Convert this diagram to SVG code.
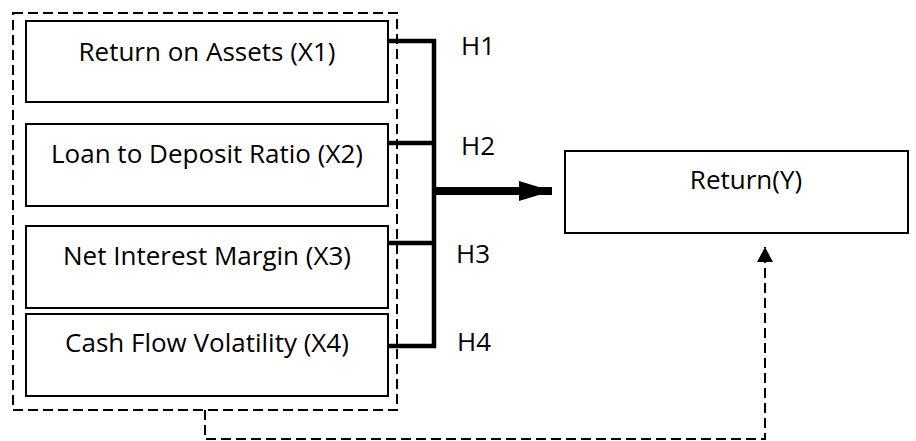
<svg xmlns="http://www.w3.org/2000/svg" width="916" height="441" viewBox="0 0 916 441">
<style>
.box{fill:#fff;stroke:#000;stroke-width:2}
.t{font-family:"Open Sans","Liberation Sans",sans-serif;font-size:26px;fill:#000}
.c{text-anchor:middle}
.dash{fill:none;stroke:#000;stroke-width:2;stroke-dasharray:10,5}
.thick{fill:none;stroke:#000;stroke-width:4.5;stroke-linejoin:miter}
</style>
<defs>
<marker id="ah" markerUnits="userSpaceOnUse" markerWidth="34" markerHeight="20" refX="33" refY="10" orient="auto">
<path d="M0,0 L33,10 L0,20 Z" fill="#000"/>
</marker>
<marker id="ah2" markerUnits="userSpaceOnUse" markerWidth="16" markerHeight="16" refX="15" refY="8" orient="auto">
<path d="M0,0 L15,8 L0,16 Z" fill="#000"/>
</marker>
</defs>
<g id="group">
<rect x="13" y="13" width="384" height="397" class="dash"/>
</g>
<g id="x1">
<rect x="26" y="21" width="362" height="81" class="box"/>
<text x="207" y="61" class="t c">Return on Assets (X1)</text>
</g>
<g id="x2">
<rect x="26" y="124" width="362" height="82" class="box"/>
<text x="207" y="163" class="t c">Loan to Deposit Ratio (X2)</text>
</g>
<g id="x3">
<rect x="26" y="226" width="362" height="82" class="box"/>
<text x="207" y="265" class="t c">Net Interest Margin (X3)</text>
</g>
<g id="x4">
<rect x="26" y="314" width="362" height="82" class="box"/>
<text x="207" y="352" class="t c">Cash Flow Volatility (X4)</text>
</g>
<g id="y">
<rect x="565" y="151" width="343" height="82" class="box"/>
<text x="746" y="189" class="t c">Return(Y)</text>
</g>
<g id="connectors">
<path d="M388,41 H434 V346 H388" class="thick"/>
<path d="M388,143 H434" class="thick" stroke-width="3.5"/>
<path d="M388,243 H434" class="thick"/>
<path d="M434,191 H552" fill="none" stroke="#000" stroke-width="8" marker-end="url(#ah)"/>
<path d="M205,410 V439 H765 V247" class="dash" marker-end="url(#ah2)"/>
</g>
<g id="labels">
<text x="461" y="55" class="t">H1</text>
<text x="461" y="155" class="t">H2</text>
<text x="456" y="263" class="t">H3</text>
<text x="457" y="351" class="t">H4</text>
</g>
</svg>
